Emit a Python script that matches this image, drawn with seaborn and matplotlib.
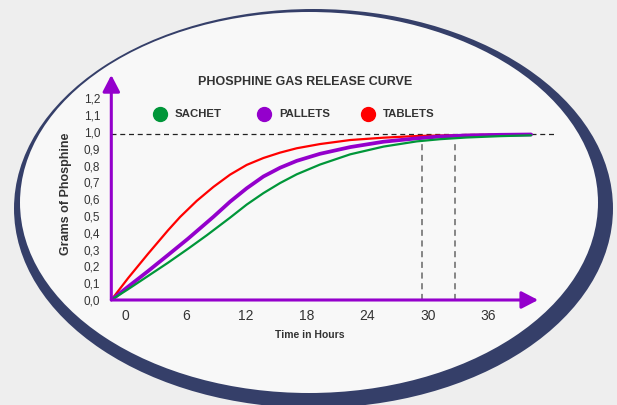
import numpy as np
import pandas as pd
import matplotlib
matplotlib.use("Agg")
import matplotlib.pyplot as plt
from matplotlib.patches import Ellipse
import seaborn as sns

# values (hours, grams)
hours_sachet = [-1.36, 0.3, 2.28, 4.26, 6.24, 8.09, 10.4, 12.05, 13.7, 15.35, 17.0, 19.3, 22.3, 25.6, 28.9, 31.2, 33.8, 37.1, 40.2]
grams_sachet = [0.0, 0.064, 0.143, 0.222, 0.305, 0.385, 0.49, 0.568, 0.636, 0.696, 0.748, 0.806, 0.867, 0.913, 0.944, 0.957, 0.967, 0.975, 0.98]

hours_pallets = [-1.36, 0.3, 2.28, 4.26, 6.24, 8.75, 10.4, 12.05, 13.7, 15.35, 17.0, 19.3, 22.3, 25.6, 28.9, 31.2, 33.8, 37.1, 40.2]
grams_pallets = [0.0, 0.079, 0.172, 0.268, 0.365, 0.495, 0.585, 0.665, 0.735, 0.787, 0.828, 0.87, 0.91, 0.942, 0.962, 0.973, 0.979, 0.983, 0.985]

hours_tablets = [-1.36, 0.3, 2.28, 4.26, 5.45, 7.1, 8.75, 10.4, 12.05, 13.7, 15.35, 17.0, 19.3, 22.3, 25.6, 28.9, 33.8, 40.2]
grams_tablets = [0.0, 0.13, 0.275, 0.415, 0.494, 0.59, 0.673, 0.746, 0.804, 0.845, 0.877, 0.903, 0.928, 0.952, 0.966, 0.976, 0.982, 0.986]

x_ticks = [0, 6, 12, 18, 24, 30, 36]
y_ticks = [0.0, 0.1, 0.2, 0.3, 0.4, 0.5, 0.6, 0.7, 0.8, 0.9, 1.0, 1.1, 1.2]
full_level = 0.985
marker_hours = [29.4, 32.7]
marker_top = 0.952

names = ["SACHET", "PALLETS", "TABLETS"]
colors = {"SACHET": "#009639", "PALLETS": "#9400cc", "TABLETS": "#ff0000"}
widths = {"SACHET": 1.6, "PALLETS": 2.7, "TABLETS": 1.6}

df = pd.concat([
    pd.DataFrame({"hours": hours_sachet, "grams": grams_sachet, "type": "SACHET"}),
    pd.DataFrame({"hours": hours_pallets, "grams": grams_pallets, "type": "PALLETS"}),
    pd.DataFrame({"hours": hours_tablets, "grams": grams_tablets, "type": "TABLETS"}),
])

sns.set_style("white")
plt.rcParams['font.family'] = ['Liberation Sans', 'DejaVu Sans']

navy = "#353f69"
purple = "#9400cc"
txt = "#333333"

fig = plt.figure(figsize=(6.17, 4.05), dpi=100)
fig.patch.set_facecolor("#eeeeee")

# background oval (behind the axes)
fig.add_artist(Ellipse((313.5/617, 1-208.5/405), 599/617, 399/405,
                       transform=fig.transFigure, facecolor=navy, edgecolor="none",
                       zorder=-2))
fig.add_artist(Ellipse((309/617, 1-202.5/405), 578/617, 381/405,
                       transform=fig.transFigure, facecolor="#f8f8f8", edgecolor="none",
                       zorder=-1))

ax = fig.add_axes([111.3/617, 105/405, 444/617, 224/405])
ax.set_facecolor("none")

for n in ["TABLETS", "PALLETS", "SACHET"]:
    sns.lineplot(data=df[df["type"] == n], x="hours", y="grams", color=colors[n],
                 linewidth=widths[n], ax=ax, legend=False, zorder=3)

ax.set_xlim(-1.36, 42.6)
ax.set_ylim(0, 1.333)

# dashed guides
ax.plot([-1.36, 42.6], [full_level, full_level], color="#222222", lw=0.9,
        dashes=(4, 3), zorder=2)
for h in marker_hours:
    ax.plot([h, h], [0, marker_top], color="#666666", lw=1.1, dashes=(4, 3), zorder=2)

# arrow axes
arrow = dict(arrowstyle="-|>,head_length=0.5,head_width=0.26", mutation_scale=20,
             lw=2.2, color=purple, shrinkA=0, shrinkB=0)
ax.annotate("", xy=(-1.36, 1.339), xytext=(-1.36, 0), arrowprops=arrow,
            annotation_clip=False, zorder=4)
ax.annotate("", xy=(40.9, 0), xytext=(-1.36, 0), arrowprops=arrow,
            annotation_clip=False, zorder=4)

sns.despine(ax=ax, left=True, bottom=True)
ax.set_xticks(x_ticks)
ax.set_xticklabels([str(t) for t in x_ticks])
ax.set_yticks(y_ticks)
ax.set_yticklabels([f"{v:.1f}".replace(".", ",") for v in y_ticks])
ax.tick_params(axis="x", length=0, pad=6.5, labelsize=10, colors=txt)
ax.tick_params(axis="y", length=0, pad=8, labelsize=8.5, colors=txt)
ax.set_xlabel("")
ax.set_ylabel("")

fig.text(305/617, 1-81.7/405, "PHOSPHINE GAS RELEASE CURVE", ha="center", va="center",
         fontsize=9, fontweight="bold", color=txt)
fig.text(66/617, 1-194/405, "Grams of Phosphine", ha="center", va="center",
         rotation=90, fontsize=9, fontweight="bold", color=txt)
fig.text(309.6/617, 1-335/405, "Time in Hours", ha="center", va="center",
         fontsize=7.5, fontweight="bold", color=txt)

# legend
leg_x = [160, 264, 368]
for n, lx in zip(names, leg_x):
    fig.add_artist(plt.Line2D([lx/617], [1-114/405], marker="o", markersize=10,
                              color=colors[n], linestyle="none",
                              transform=fig.transFigure))
    fig.text((lx+15)/617, 1-114/405, n, ha="left", va="center",
             fontsize=8.2, fontweight="bold", color=txt)

fig.savefig("out.png", dpi=100, facecolor=fig.get_facecolor())
